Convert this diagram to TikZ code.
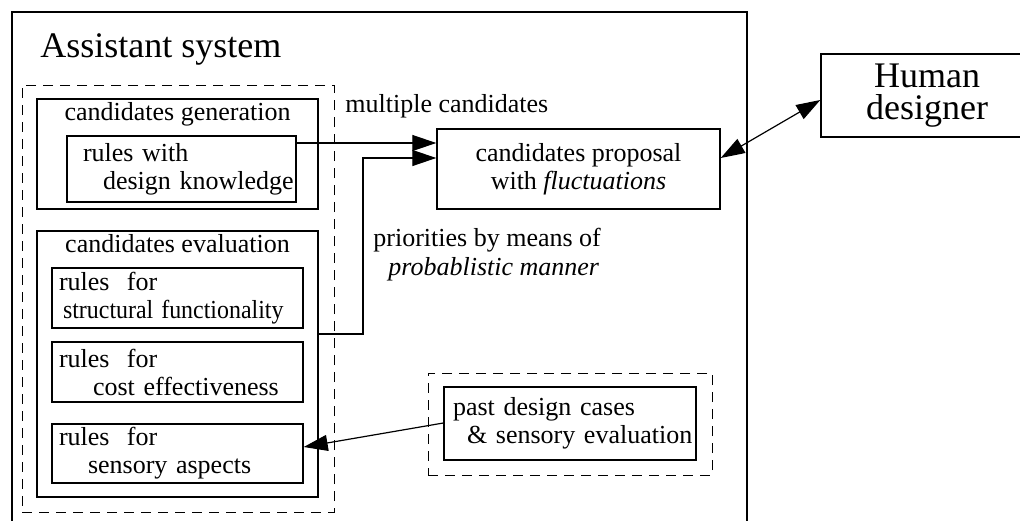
\documentclass[tikz,border=0pt]{standalone}
\usepackage{fontspec}
\setmainfont{Liberation Serif}
\usetikzlibrary{arrows.meta}

\tikzset{
	box/.style={draw, line width=0.7pt, inner sep=0pt, align=left},
	group/.style={draw, line width=0.5pt, dash pattern=on 5pt off 3.5pt, inner sep=0pt},
	head/.style={anchor=north, inner sep=2pt},
	arr/.style={line width=0.6pt, -{Triangle[length=12pt,width=8pt]}},
	arrboth/.style={line width=0.6pt, {Triangle[length=12pt,width=8pt]}-{Triangle[length=12pt,width=8pt]}},
	big/.style={font=\fontsize{18}{16}\selectfont},
}

\begin{document}
\begin{tikzpicture}[x=0.5pt, y=-0.5pt, font=\fontsize{13}{14}\selectfont]
	\useasboundingbox (0,0) rectangle (1020,520);

	\node[draw, line width=1.2pt, minimum width=367.5pt, minimum height=274pt] (assist) at (379.5,286) {};
	\node[big, anchor=base west, inner sep=0pt] (title) at (40,57) {Assistant system};

	\node[group, minimum width=156pt, minimum height=213.5pt] (rulebase) at (178,298.5) {};

	\node[box, minimum width=140.5pt, minimum height=55pt,
		label={[head]north:candidates generation}] (gen) at (177.5,154) {};
	\node[box, minimum width=114.5pt, minimum height=33pt, text width=98.5pt] (know) at (181.5,169)
		{rules with\\\hspace*{10pt}\mbox{design knowledge}};

	\node[box, minimum width=140.5pt, minimum height=133pt,
		label={[head]north:candidates evaluation}] (eval) at (177.5,364) {};
	\node[box, minimum width=125.5pt, minimum height=30pt, text width=118.5pt] (struct) at (177.5,298)
		{rules~ for\\\hspace*{2pt}\scalebox{0.92}[1]{structural functionality}};
	\node[box, minimum width=125.5pt, minimum height=30pt, text width=118.5pt] (cost) at (177.5,372)
		{rules~ for\\\hspace*{17pt}\mbox{cost effectiveness}};
	\node[box, minimum width=125.5pt, minimum height=29.5pt, text width=118.5pt] (sens) at (177.5,453.5)
		{rules~ for\\\hspace*{14.5pt}\mbox{sensory aspects}};

	\node[box, align=center, minimum width=141.5pt, minimum height=40pt] (prop) at (578.5,169)
		{candidates proposal\\with \textit{fluctuations}};
	\node[box, big, align=center, minimum width=106pt, minimum height=41.5pt] (human) at (927,95.5)
		{Human\\designer};

	\node[group, minimum width=142pt, minimum height=51pt] (pastgrp) at (570,424) {};
	\node[box, minimum width=126pt, minimum height=36.5pt, text width=117pt] (past) at (570,423.5)
		{past design cases\\\hspace*{7pt}\mbox{\& sensory evaluation}};

	\node[anchor=base west, inner sep=0pt] (multi) at (345,112) {multiple candidates};
	\node[anchor=base west, inner sep=0pt] (prio) at (373,246) {priorities by means of};
	\node[anchor=base west, inner sep=0pt] (manner) at (388,275) {\textit{probablistic manner}};

	\draw[arr] (know.east |- 0,143) -- (prop.west |- 0,143);
	\draw[arr] (eval.east |- 0,334) -| (363,158) -- (prop.west |- 0,158);
	\draw[arrboth] (prop.east |- 0,158) -- (human.west |- 0,100);
	\draw[arr] (past.west |- 0,423) -- (sens.east |- 0,447);
\end{tikzpicture}
\end{document}
